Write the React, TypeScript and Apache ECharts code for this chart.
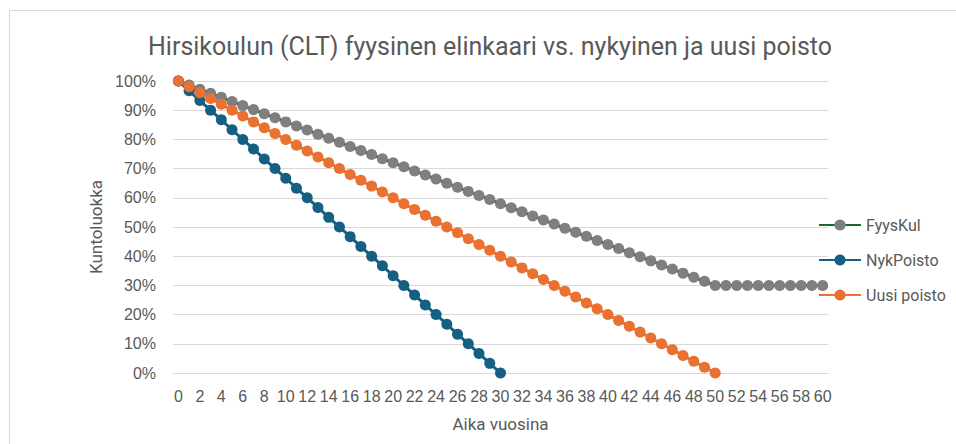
import React, { useEffect, useRef } from "react";
import * as echarts from "echarts";

const years: string[] = [
  "0","1","2","3","4","5","6","7","8","9","10","11","12","13","14","15","16","17","18","19","20",
  "21","22","23","24","25","26","27","28","29","30","31","32","33","34","35","36","37","38","39","40",
  "41","42","43","44","45","46","47","48","49","50","51","52","53","54","55","56","57","58","59","60",
];

const fyysKul: number[] = [
  100, 98.6, 97.2, 95.8, 94.4, 93, 91.6, 90.2, 88.8, 87.4, 86, 84.6, 83.2, 81.8, 80.4, 79, 77.6, 76.2, 74.8, 73.4, 72,
  70.6, 69.2, 67.8, 66.4, 65, 63.6, 62.2, 60.8, 59.4, 58, 56.6, 55.2, 53.8, 52.4, 51, 49.6, 48.2, 46.8, 45.4, 44,
  42.6, 41.2, 39.8, 38.4, 37, 35.6, 34.2, 32.8, 31.4, 30, 30, 30, 30, 30, 30, 30, 30, 30, 30, 30,
];

const nykPoisto: (number | null)[] = [
  100, 96.7, 93.3, 90, 86.7, 83.3, 80, 76.7, 73.3, 70, 66.7, 63.3, 60, 56.7, 53.3, 50, 46.7, 43.3, 40, 36.7, 33.3,
  30, 26.7, 23.3, 20, 16.7, 13.3, 10, 6.7, 3.3, 0,
];

const uusiPoisto: (number | null)[] = [
  100, 98, 96, 94, 92, 90, 88, 86, 84, 82, 80, 78, 76, 74, 72, 70, 68, 66, 64, 62, 60,
  58, 56, 54, 52, 50, 48, 46, 44, 42, 40, 38, 36, 34, 32, 30, 28, 26, 24, 22, 20,
  18, 16, 14, 12, 10, 8, 6, 4, 2, 0,
];

const TICK = '"Liberation Sans", sans-serif';
const REG = 'Roboto, "Noto Sans", sans-serif';

export default function App() {
  const ref = useRef<HTMLDivElement>(null);
  useEffect(() => {
    if (!ref.current) return;
    const chart = echarts.init(ref.current, undefined, { renderer: "svg" });
    const mk = (name: string, data: (number | null)[], line: string, marker: string) => ({
      name,
      type: "line",
      data,
      symbol: "circle",
      symbolSize: 11,
      showSymbol: true,
      showAllSymbol: true,
      lineStyle: { color: line, width: 3 },
      itemStyle: { color: marker },
      connectNulls: false,
    });
    chart.setOption({
      animation: false,
      backgroundColor: "#ffffff",
      title: {
        text: "Hirsikoulun (CLT) fyysinen elinkaari vs. nykyinen ja uusi poisto",
        left: 143,
        top: 29,
        textStyle: { fontFamily: REG, fontSize: 25, fontWeight: "normal", color: "#595959" },
      },
      graphic: [
        {
          type: "rect",
          shape: { x: 9.5, y: 10.5, width: 1000, height: 1000 },
          style: { fill: "none", stroke: "#d9d9d9", lineWidth: 1 },
          silent: true,
        },
      ],
      legend: {
        orient: "vertical",
        left: 813,
        top: 212,
        itemWidth: 42,
        itemHeight: 14,
        itemGap: 19,
        textStyle: { fontFamily: REG, fontSize: 16, color: "#595959" },
        data: ["FyysKul", "NykPoisto", "Uusi poisto"],
      },
      grid: { left: 173, right: 128, top: 81, bottom: 71, containLabel: false },
      xAxis: {
        type: "category",
        data: years,
        boundaryGap: true,
        name: "Aika vuosina",
        nameLocation: "middle",
        nameGap: 42,
        nameTextStyle: { fontFamily: REG, fontSize: 17, color: "#595959" },
        axisLine: { show: true, lineStyle: { color: "#d9d9d9" } },
        axisTick: { show: false },
        axisLabel: { interval: 1, fontFamily: TICK, fontSize: 16, color: "#595959", margin: 15 },
        splitLine: { show: false },
      },
      yAxis: {
        type: "value",
        min: 0,
        max: 100,
        interval: 10,
        name: "Kuntoluokka",
        nameLocation: "middle",
        nameGap: 68,
        nameRotate: 90,
        nameTextStyle: { fontFamily: REG, fontSize: 17, color: "#595959" },
        axisLine: { show: false },
        axisTick: { show: false },
        axisLabel: { formatter: "{value}%", fontFamily: TICK, fontSize: 16, color: "#595959", margin: 17 },
        splitLine: { lineStyle: { color: "#d9d9d9", width: 1 } },
      },
      series: [
        mk("FyysKul", fyysKul, "#196B24", "#7f7f7f"),
        mk("NykPoisto", nykPoisto, "#156082", "#156082"),
        mk("Uusi poisto", uusiPoisto, "#E97132", "#E97132"),
      ],
    });
    return () => chart.dispose();
  }, []);
  return (
    <div
      ref={ref}
      style={{ position: "fixed", left: 0, top: 0, width: 956, height: 444, background: "#fff" }}
    />
  );
}
